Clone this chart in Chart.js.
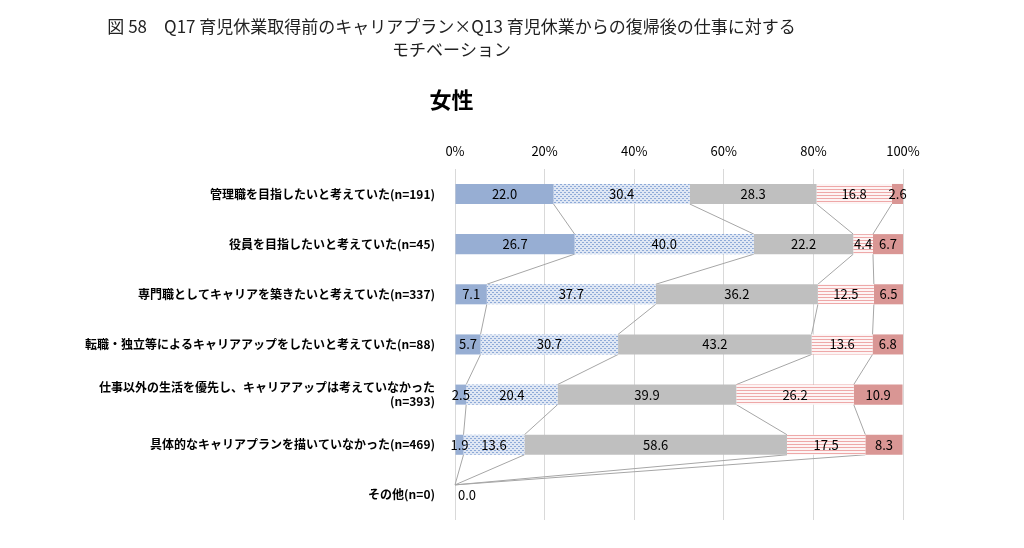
<!doctype html>
<html lang="ja">
<head>
<meta charset="utf-8">
<title>女性</title>
<style>
  * { margin: 0; padding: 0; }
  body { background: #fff; }
</style>
</head>
<body>
<canvas id="myChart" width="1024" height="548"></canvas>
<script src="https://cdn.jsdelivr.net/npm/chart.js"></script>
<script>
// categories and values
const labels = [
  '管理職を目指したいと考えていた(n=191)',
  '役員を目指したいと考えていた(n=45)',
  '専門職としてキャリアを築きたいと考えていた(n=337)',
  '転職・独立等によるキャリアアップをしたいと考えていた(n=88)',
  ['仕事以外の生活を優先し、キャリアアップは考えていなかった', '(n=393)'],
  '具体的なキャリアプランを描いていなかった(n=469)',
  'その他(n=0)'
];
const s1 = [22.0, 26.7, 7.1, 5.7, 2.5, 1.9, 0];
const s2 = [30.4, 40.0, 37.7, 30.7, 20.4, 13.6, 0];
const s3 = [28.3, 22.2, 36.2, 43.2, 39.9, 58.6, 0];
const s4 = [16.8, 4.4, 12.5, 13.6, 26.2, 17.5, 0];
const s5 = [2.6, 6.7, 6.5, 6.8, 10.9, 8.3, 0];
const xTicks = [0, 20, 40, 60, 80, 100];

const FONT = '"Noto Sans CJK JP", "Noto Sans", sans-serif';

// fill patterns like the excel ones
function dotPattern() {
  const c = document.createElement('canvas');
  c.width = 4; c.height = 4;
  const g = c.getContext('2d');
  g.fillStyle = '#dfe7f4'; g.fillRect(0, 0, 4, 4);
  g.fillStyle = '#8eaad8';
  g.fillRect(0, 0, 1, 1); g.fillRect(2, 2, 1, 1);
  g.fillRect(1, 0, 1, 1); g.fillRect(3, 2, 1, 1);
  return g.createPattern(c, 'repeat');
}
function stripePattern() {
  const c = document.createElement('canvas');
  c.width = 4; c.height = 3;
  const g = c.getContext('2d');
  g.fillStyle = '#fdf4f4'; g.fillRect(0, 0, 4, 3);
  g.fillStyle = '#eea8a8'; g.fillRect(0, 0, 4, 1);
  return g.createPattern(c, 'repeat');
}

// grey connector lines between bars
const seriesLines = {
  id: 'seriesLines',
  beforeDatasetsDraw(chart) {
    const ctx = chart.ctx, x = chart.scales.x;
    const meta = chart.getDatasetMeta(0);
    const ds = chart.data.datasets;
    ctx.save();
    ctx.strokeStyle = '#a6a6a6';
    ctx.lineWidth = 1;
    for (let k = 0; k < 4; k++) {
      for (let i = 0; i < labels.length - 1; i++) {
        let a = 0, b = 0;
        for (let j = 0; j <= k; j++) { a += ds[j].data[i]; b += ds[j].data[i + 1]; }
        const e1 = meta.data[i], e2 = meta.data[i + 1];
        ctx.beginPath();
        ctx.moveTo(x.getPixelForValue(a), e1.y + e1.height / 2);
        ctx.lineTo(x.getPixelForValue(b), e2.y - e2.height / 2);
        ctx.stroke();
      }
    }
    ctx.restore();
  }
};

// value labels in the middle of each segment
const valueLabels = {
  id: 'valueLabels',
  afterDatasetsDraw(chart) {
    const ctx = chart.ctx;
    ctx.save();
    ctx.font = '13px ' + FONT;
    ctx.fillStyle = '#000';
    ctx.textBaseline = 'middle';
    chart.data.datasets.forEach((d, di) => {
      chart.getDatasetMeta(di).data.forEach((el, i) => {
        const v = d.data[i];
        if (v === 0) {
          if (di === 0) {
            ctx.textAlign = 'left';
            ctx.fillText('0.0', el.base + 3, el.y);
          }
          return;
        }
        ctx.textAlign = 'center';
        ctx.fillText(v.toFixed(1), (el.x + el.base) / 2, el.y);
      });
    });
    ctx.restore();
  }
};

const data = {
  labels,
  datasets: [
    { data: s1, backgroundColor: '#97aed3' },
    { data: s2, backgroundColor: dotPattern() },
    { data: s3, backgroundColor: '#bfbfbf' },
    { data: s4, backgroundColor: stripePattern() },
    { data: s5, backgroundColor: '#d99694' }
  ]
};

const myChart = new Chart(document.getElementById('myChart'), {
  type: 'bar',
  data,
  options: {
    indexAxis: 'y',
    responsive: false,
    animation: false,
    layout: { padding: { left: 0, right: 121, top: 15, bottom: 28 } },
    datasets: { bar: { barPercentage: 0.4, categoryPercentage: 1 } },
    plugins: {
      legend: { display: false },
      tooltip: { enabled: false },
      title: {
        display: true,
        text: ['図 58　Q17 育児休業取得前のキャリアプラン×Q13 育児休業からの復帰後の仕事に対する', 'モチベーション'],
        color: '#222',
        font: { family: FONT, size: 17, weight: 'normal', lineHeight: 1.35 },
        padding: { top: 0, bottom: 26 }
      },
      subtitle: {
        display: true,
        text: '女性',
        color: '#000',
        font: { family: FONT, size: 22, weight: 'bold' },
        padding: { top: 0, bottom: 20 }
      }
    },
    scales: {
      x: {
        position: 'top',
        stacked: true,
        min: 0, max: 100,
        afterBuildTicks: s => { s.ticks = xTicks.map(v => ({ value: v })); },
        ticks: { callback: v => v + '%', color: '#000', font: { family: FONT, size: 13 }, padding: 10 },
        grid: { color: '#d9d9d9', drawTicks: false },
        border: { display: false }
      },
      y: {
        stacked: true,
        afterFit: s => { s.width = 455; },
        ticks: { color: '#000', font: { family: FONT, size: 12, weight: 'bold' }, padding: 12 },
        grid: { display: false },
        border: { display: false }
      }
    }
  },
  plugins: [seriesLines, valueLabels]
});
</script>
</body>
</html>
